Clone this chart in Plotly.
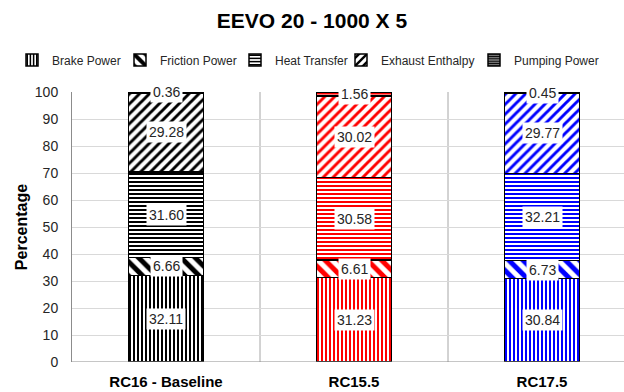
import plotly.graph_objects as go

# Energy balance shares (%) for each compression ratio
categories = ["RC16 - Baseline", "RC15.5", "RC17.5"]
brake_power = [32.11, 31.23, 30.84]
friction_power = [6.66, 6.61, 6.73]
heat_transfer = [31.60, 30.58, 32.21]
exhaust_enthalpy = [29.28, 30.02, 29.77]
pumping_power = [0.36, 1.56, 0.45]
bar_colors = ["#000000", "#ff0000", "#0000ff"]
y_ticks = list(range(0, 101, 10))

W, H = 624, 392
ML, MR, MT, MB = 72, 0, 92, 30
CAT_PX = 188  # width of one category slot in pixels

series = [
    ("Brake Power", brake_power, "|", 4, 0.5),
    ("Friction Power", friction_power, "\\", 10, 0.5),
    ("Heat Transfer", heat_transfer, "-", 4, 0.5),
    ("Exhaust Enthalpy", exhaust_enthalpy, "/", 7, 0.42),
    ("Pumping Power", pumping_power, "-", 3, 0.7),
]

# legend anchor positions (left edge in px) for each entry
legend_left = [12, 120, 235, 341, 474]

fig = go.Figure()
annotations = []
base = [0.0] * len(categories)
for i, (name, vals, shape, size, solid) in enumerate(series):
    lg = "legend" if i == 0 else f"legend{i + 1}"
    fig.add_trace(go.Bar(
        name=name,
        x=categories,
        y=vals,
        width=0.40,
        legend=lg,
        showlegend=True,
        marker=dict(
            color="white",
            line=dict(color="black", width=1.5),
            pattern=dict(shape=shape, size=size, solidity=solid,
                         fgcolor=bar_colors, bgcolor="white",
                         fillmode="replace"),
        ),
        hoverinfo="skip",
    ))
    for j, v in enumerate(vals):
        annotations.append(dict(
            x=categories[j], y=base[j] + v / 2, xref="x", yref="y",
            text=f"{v:.2f}", showarrow=False,
            font=dict(family="Arial, Liberation Sans", size=14, color="#262626"),
            bgcolor="white", borderpad=2,
        ))
        base[j] += v

legend_common = dict(
    orientation="h", xref="container", yref="container",
    xanchor="left", yanchor="middle", y=1 - 60 / H,
    font=dict(family="Arial, Liberation Sans", size=12, color="#262626"),
    bgcolor="rgba(0,0,0,0)", borderwidth=0, itemwidth=30,
)
layout_legends = {}
for i, left in enumerate(legend_left):
    key = "legend" if i == 0 else f"legend{i + 1}"
    layout_legends[key] = dict(legend_common, x=left / W)

x_max = (W - ML - MR) / CAT_PX - 0.5

shapes = [
    dict(type="line", xref="x", yref="paper", x0=k + 0.5, x1=k + 0.5, y0=0, y1=1,
         line=dict(color="#a6a6a6", width=1), layer="below")
    for k in range(len(categories) - 1)
]

fig.update_layout(
    width=W, height=H,
    margin=dict(l=ML, r=MR, t=MT, b=MB, pad=0),
    paper_bgcolor="white", plot_bgcolor="white",
    barmode="stack",
    showlegend=True,
    title=dict(text="<b>EEVO 20 - 1000 X 5</b>", x=0.5, xref="container",
               y=1 - 21 / H, yref="container", yanchor="middle",
               font=dict(family="Arial, Liberation Sans", size=21, color="#000000")),
    xaxis=dict(range=[-0.5, x_max], showgrid=False, showline=False, zeroline=False,
               ticks="", ticklabelstandoff=9,
               tickfont=dict(family="Arial, Liberation Sans", size=15,
                             color="#000000", weight="bold"),
               fixedrange=True),
    yaxis=dict(range=[0, 100], tickvals=y_ticks, showgrid=True, gridcolor="#d9d9d9",
               gridwidth=1, zeroline=False, showline=True, linecolor="#8c8c8c",
               linewidth=1, ticks="", ticklabelstandoff=10,
               tickfont=dict(family="Arial, Liberation Sans", size=14, color="#262626"),
               title=dict(text="<b>Percentage</b>", standoff=3,
                          font=dict(family="Arial, Liberation Sans", size=16, color="#000000")),
               automargin=False),
    shapes=shapes + [
        dict(type="line", xref="paper", yref="y", x0=0, x1=1, y0=0, y1=0,
             line=dict(color="#8c8c8c", width=1)),
    ],
    annotations=annotations,
    **layout_legends,
)

fig.write_html("out.html")
